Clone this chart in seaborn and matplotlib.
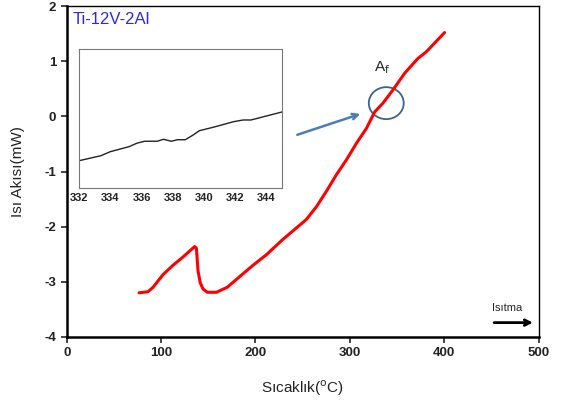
import numpy as np
import pandas as pd
import matplotlib
matplotlib.use("Agg")
import matplotlib.pyplot as plt
import seaborn as sns
from matplotlib.patches import Ellipse

# main DSC heating curve
temp = [76.6, 86.1, 91.4, 102.0, 112.6, 123.2, 135.6, 137.4, 139.1, 141.5, 144.4,
        149.0, 158.6, 170.0, 185.0, 197.4, 211.5, 229.1, 253.9, 264.5, 275.1,
        285.7, 296.3, 306.9, 317.5, 326.3, 335.1, 345.7, 358.0, 372.1, 381.0, 400.4]
heat_flow = [-3.20, -3.18, -3.10, -2.87, -2.70, -2.55, -2.36, -2.39, -2.80, -3.02, -3.13,
             -3.19, -3.19, -3.10, -2.88, -2.70, -2.51, -2.23, -1.87, -1.64, -1.36,
             -1.06, -0.79, -0.49, -0.22, 0.08, 0.24, 0.48, 0.78, 1.05, 1.17, 1.52]

# zoomed section around Af (no y scale shown in the inset)
inset_temp = [332.0, 333.4, 334.0, 335.2, 335.7, 336.2, 337.0, 337.4, 337.9, 338.3,
              338.8, 339.3, 339.7, 340.6, 341.9, 342.5, 343.0, 345.0]
inset_flow = [0.196, 0.232, 0.261, 0.297, 0.322, 0.336, 0.336, 0.350, 0.336, 0.347,
              0.347, 0.381, 0.412, 0.437, 0.477, 0.489, 0.489, 0.547]
inset_ticks = [332, 334, 336, 338, 340, 342, 344]

sns.set_style("white")
plt.rcParams['font.family'] = ['Liberation Sans', 'DejaVu Sans']
plt.rcParams['axes.unicode_minus'] = False

df = pd.DataFrame({'T': temp, 'Q': heat_flow})
df_in = pd.DataFrame({'T': inset_temp, 'Q': inset_flow})

fig = plt.figure(figsize=(5.61, 4.05), dpi=100)
ax = fig.add_axes([0.119, 0.168, 0.841, 0.817])
sns.lineplot(data=df, x='T', y='Q', color='#ff0000', lw=2.2, ax=ax)
ax.set_xlim(0, 500)
ax.set_ylim(-4, 2)
ax.set_xticks([0, 100, 200, 300, 400, 500])
ax.set_yticks([-4, -3, -2, -1, 0, 1, 2])
ax.tick_params(direction='out', length=4, width=1.2, labelsize=9.5, bottom=True, left=True)
for lab in ax.get_xticklabels() + ax.get_yticklabels():
    lab.set_fontweight('bold')
    lab.set_color('#222222')
for side in ['left', 'bottom']:
    ax.spines[side].set_linewidth(1.8)
for side in ['top', 'right']:
    ax.spines[side].set_linewidth(1.0)
for s in ax.spines.values():
    s.set_color('black')
ax.set_xlabel('Sıcaklık($^{\\mathrm{o}}$C)', fontsize=11, color='#222222', labelpad=14)
ax.set_ylabel('Isı Akısı(mW)', fontsize=11, color='#222222', labelpad=14)

ax.text(6, 1.75, 'Ti-12V-2Al', color='#2a2ae8', fontsize=12, va='center')
ax.text(334.7, 0.88, 'A$_{\\mathrm{f}}$', fontsize=11, ha='center', va='center')
ax.add_patch(Ellipse((338.6, 0.24), 37, 0.58, fill=False, ec='#3b6391', lw=1.3))
ax.annotate('', xy=(313.9, 0.06), xytext=(241.5, -0.35),
            arrowprops=dict(arrowstyle='->', color='#4a7ebb', lw=1.8))
ax.text(451, -3.47, 'Isıtma', fontsize=8, va='center')
ax.annotate('', xy=(497, -3.74), xytext=(450, -3.74),
            arrowprops=dict(arrowstyle='->', color='black', lw=2))

ins = fig.add_axes([0.141, 0.536, 0.362, 0.343])
sns.lineplot(data=df_in, x='T', y='Q', color='#222222', lw=1.0, ax=ins)
ins.set_xlim(332, 345)
ins.set_ylim(0, 1)
ins.set_xticks(inset_ticks)
ins.set_yticks([])
ins.set_xlabel('')
ins.set_ylabel('')
ins.tick_params(axis='x', length=0, labelsize=8, pad=4)
for lab in ins.get_xticklabels():
    lab.set_fontweight('bold')
    lab.set_color('#222222')
for s in ins.spines.values():
    s.set_color('#777777')
    s.set_linewidth(0.8)

fig.savefig('out.png', dpi=100)
